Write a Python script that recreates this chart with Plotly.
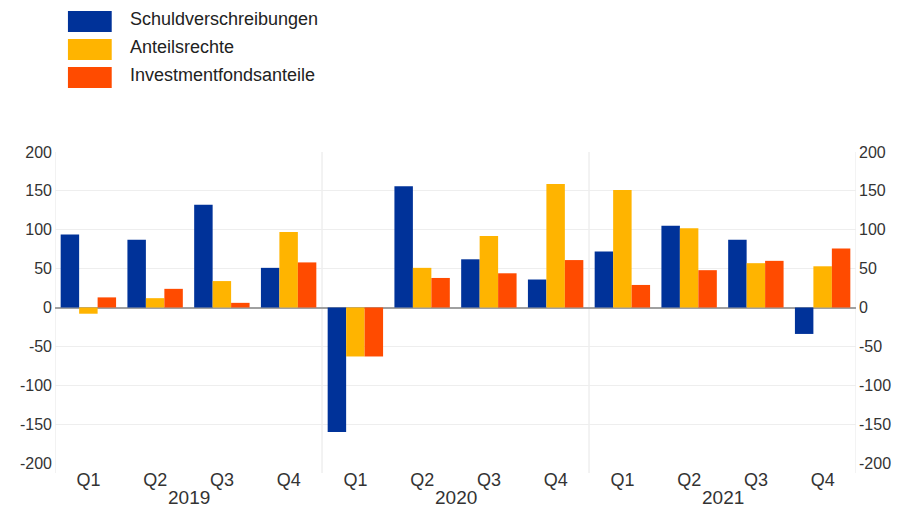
import plotly.graph_objects as go

years = ["2019", "2020", "2021"]
quarters = ["Q1", "Q2", "Q3", "Q4"]
series_names = ["Schuldverschreibungen", "Anteilsrechte", "Investmentfondsanteile"]
colors = ["#003299", "#FFB400", "#FF4B00"]

schuld = [94, 87, 132, 51, -160, 156, 62, 36, 72, 105, 87, -34]
anteil = [-8, 12, 34, 97, -63, 51, 92, 159, 151, 102, 57, 53]
invest = [13, 24, 6, 58, -63, 38, 44, 61, 29, 48, 60, 76]
values = [schuld, anteil, invest]

y_ticks = [-200, -150, -100, -50, 0, 50, 100, 150, 200]
y_ticktext = [str(v) for v in y_ticks]  # plain hyphen minus as in the reference

n = len(years) * len(quarters)
xs = list(range(n))
qlabels = [q for _ in years for q in quarters]

OFF = 8  # default page body margin
W, H = 903 - OFF, 509 - OFF
L, R, T, B = 53 - OFF, 45, 152 - OFF, 46
pw, ph = W - L - R, H - T - B

def px_x(p):
    return (p - OFF - L) / pw

def px_y(p):
    return (OFF + T + ph - p) / ph

FONT = "Liberation Sans, Arial, sans-serif"

fig = go.Figure()
for name, vals, col in zip(series_names, values, colors):
    fig.add_trace(go.Bar(x=xs, y=vals, name=name, marker=dict(color=col, line=dict(width=0)),
                         showlegend=False))
fig.add_trace(go.Scatter(x=[None], y=[None], yaxis="y2", showlegend=False, hoverinfo="skip"))

tickfont = dict(family=FONT, size=16, color="#333333")
fig.update_layout(
    width=W, height=H,
    margin=dict(l=L, r=R, t=T, b=B),
    plot_bgcolor="white", paper_bgcolor="white",
    barmode="group", bargap=0.17, bargroupgap=0,
    xaxis=dict(range=[-0.5, n - 0.5], tickvals=xs, ticktext=qlabels, showgrid=False,
               zeroline=False, ticks="", ticklabelstandoff=4,
               tickfont=dict(family=FONT, size=18, color="#333333")),
    yaxis=dict(range=[-200, 200], tickvals=y_ticks, ticktext=y_ticktext, showgrid=True,
               gridcolor="#eeeeee", zeroline=True, zerolinecolor="#a0a0a0", zerolinewidth=1.5,
               ticks="", tickfont=tickfont, ticklabelstandoff=2),
    yaxis2=dict(range=[-200, 200], tickvals=y_ticks, ticktext=y_ticktext, overlaying="y",
                side="right", matches="y", showgrid=False, zeroline=False, ticks="",
                tickfont=tickfont, ticklabelstandoff=2),
)

# year boundary lines (extend slightly below the plot area)
for i in range(len(years) + 1):
    xb = i * len(quarters) - 0.5
    fig.add_shape(type="line", xref="x", yref="paper", x0=xb, x1=xb, y0=px_y(473), y1=1,
                  line=dict(color="#e6e6e6", width=1), layer="below")

# year labels
for i, yr in enumerate(years):
    xc = i * len(quarters) + (len(quarters) - 1) / 2
    fig.add_annotation(x=xc, xref="x", y=px_y(497), yref="paper", text=yr, showarrow=False,
                       yanchor="middle", font=dict(family=FONT, size=19, color="#333333"))

# custom legend
sw_top = [11, 39, 67]
for name, col, top in zip(series_names, colors, sw_top):
    fig.add_shape(type="rect", xref="paper", yref="paper", x0=px_x(66), x1=px_x(110),
                  y0=px_y(top + 21), y1=px_y(top), fillcolor=col, line=dict(width=0))
    fig.add_annotation(xref="paper", yref="paper", x=px_x(126), y=px_y(top + 8), text=name,
                       showarrow=False, xanchor="left", yanchor="middle",
                       font=dict(family=FONT, size=18, color="#222222"))

fig.write_html("out.html")
